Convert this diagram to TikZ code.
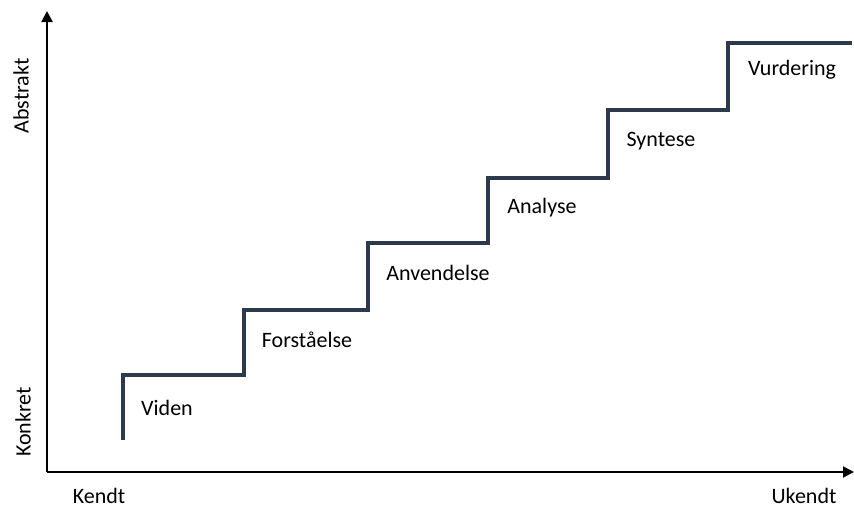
\documentclass[tikz,border=0pt]{standalone}
\usepackage{fontspec}
\setmainfont{Carlito}
\usetikzlibrary{arrows.meta}
\definecolor{stair}{HTML}{2C3A4C}
\begin{document}
\begin{tikzpicture}[x={(1pt,0)},y={(0,-1pt)},
  axis/.style={line width=2pt,black,-{Triangle[length=11pt,width=11pt]}},
  stairline/.style={line width=4pt,stair,line join=miter},
  lbl/.style={font=\fontsize{22}{26}\selectfont,inner sep=0pt,anchor=center},
  axlbl/.style={font=\fontsize{22}{26}\selectfont,inner sep=0pt,anchor=center}]
\useasboundingbox (0,0) rectangle (854,509);
\coordinate (O) at (47,472);
\coordinate (ytip) at (47,11);
\coordinate (xtip) at (854,472);
\draw[axis] (O) -- (ytip);
\draw[axis] (O) -- (xtip);
\coordinate (s0) at (123,440);
\coordinate (s1) at (123,375);
\coordinate (s2) at (244,375);
\coordinate (s3) at (244,310);
\coordinate (s4) at (368,310);
\coordinate (s5) at (368,243);
\coordinate (s6) at (488,243);
\coordinate (s7) at (488,178);
\coordinate (s8) at (608,178);
\coordinate (s9) at (608,110);
\coordinate (s10) at (728,110);
\coordinate (s11) at (728,43);
\coordinate (s12) at (852,43);
\draw[stairline] (s0) -- (s1) -- (s2) -- (s3) -- (s4) -- (s5) -- (s6) -- (s7) -- (s8) -- (s9) -- (s10) -- (s11) -- (s12);
\node[lbl] (viden) at (167,408) {Viden};
\node[lbl] (forst) at (307,340) {Forståelse};
\node[lbl] (anv) at (438,273) {Anvendelse};
\node[lbl] (ana) at (542,208) {Analyse};
\node[lbl] (syn) at (661,141) {Syntese};
\node[lbl] (vur) at (792,70) {Vurdering};
\node[axlbl,rotate=90] (abs) at (21,96) {Abstrakt};
\node[axlbl,rotate=90] (kon) at (23,422) {Konkret};
\node[axlbl] (kendt) at (99,496) {Kendt};
\node[axlbl] (ukendt) at (804,496) {Ukendt};
\end{tikzpicture}
\end{document}
